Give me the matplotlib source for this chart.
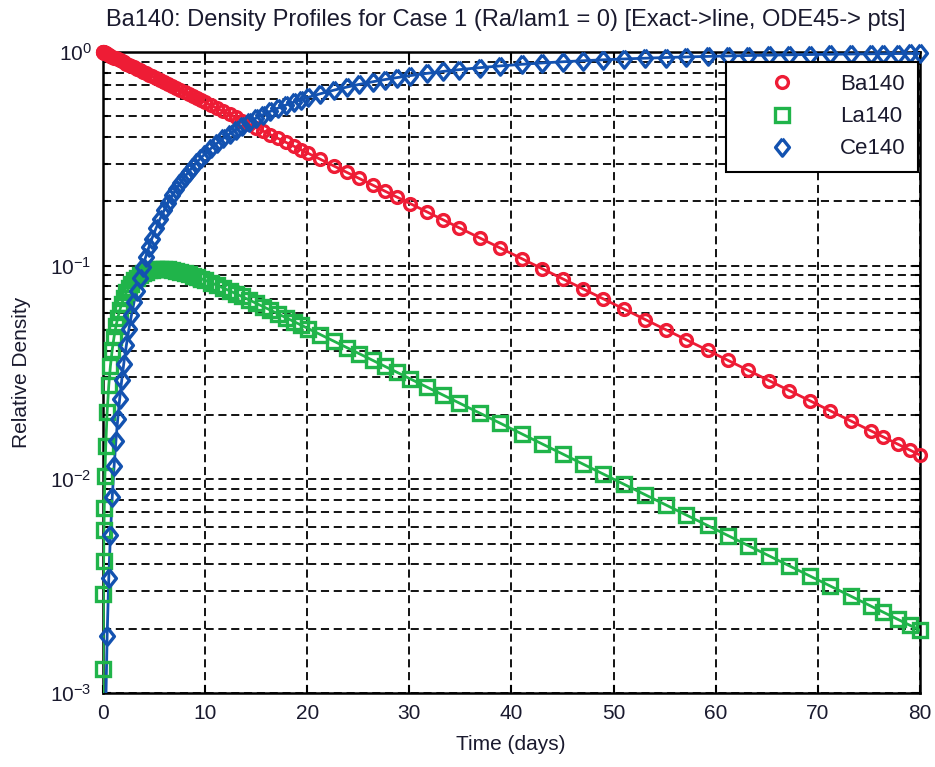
import matplotlib
matplotlib.use("Agg")
import matplotlib.pyplot as plt
import numpy as np
from matplotlib.ticker import FixedLocator, LogFormatterSciNotation, NullFormatter

plt.rcParams["font.family"] = ["Liberation Sans", "DejaVu Sans"]

# ODE45 output times (days) and relative densities
t_days = [0, 0.024, 0.054, 0.078, 0.11, 0.14, 0.2, 0.28, 0.42, 0.58, 0.74, 0.92, 1.1, 1.28, 1.46,
          1.65, 1.85, 2.05, 2.3, 2.55, 2.8, 3.05, 3.3, 3.6, 3.9, 4.2, 4.5, 4.8,
          5.2, 5.6, 6.0, 6.4, 6.8, 7.2, 7.6, 8.0, 8.4, 8.8, 9.2, 9.6, 10.0,
          10.6, 11.2, 11.8, 12.4, 13.0, 13.6, 14.3, 15.0, 15.7, 16.4, 17.1, 17.9, 18.7, 19.4,
          20.1, 21.3, 22.6, 23.9, 25.1, 26.4, 27.6, 28.8, 30.1,
          31.7, 33.3, 34.9, 36.9, 38.9, 41.0, 43.0, 45.0, 47.0, 49.0, 51.0, 53.1, 55.1, 57.1,
          59.2, 61.2, 63.2, 65.2, 67.2, 69.2, 71.2, 73.2, 75.2, 76.4, 77.8, 79.0, 80.0]

ba140 = [1.0, 0.9987, 0.9971, 0.9958, 0.9940, 0.9924, 0.9892, 0.9849, 0.9775, 0.9690, 0.9606,
         0.9513, 0.9420, 0.9329, 0.9238,
         0.9143, 0.9044, 0.8947, 0.8826, 0.8707, 0.8590, 0.8474, 0.8359, 0.8224, 0.8092, 0.7961,
         0.7832, 0.7706,
         0.7540, 0.7378, 0.7220, 0.7064, 0.6913, 0.6764, 0.6619, 0.6477, 0.6337, 0.6201, 0.6068,
         0.5938, 0.5810,
         0.5624, 0.5444, 0.5269, 0.5100, 0.4937, 0.4778, 0.4600, 0.4429, 0.4263, 0.4104, 0.3951,
         0.3783, 0.3623, 0.3487,
         0.3357, 0.3146, 0.2931, 0.2731, 0.2559, 0.2385, 0.2234, 0.2093, 0.1951,
         0.1788, 0.1640, 0.1503, 0.1348, 0.1210, 0.1079, 0.09682, 0.08686, 0.07792, 0.06990,
         0.06271, 0.05595, 0.05019, 0.04503, 0.04017, 0.03604, 0.03233, 0.02900, 0.02602,
         0.02334, 0.02094, 0.01878, 0.01685, 0.01579, 0.01463, 0.01371, 0.01299]

la140 = [0.0, 0.001296, 0.002895, 0.004158, 0.005822, 0.007358, 0.01037, 0.01425, 0.02069,
         0.02755, 0.03390, 0.04048, 0.04649, 0.05199, 0.05701,
         0.06182, 0.06640, 0.07051, 0.07505, 0.07899, 0.08239, 0.08531, 0.08780, 0.09026,
         0.09224, 0.09378, 0.09495, 0.09578,
         0.09645, 0.09669, 0.09657, 0.09615, 0.09550, 0.09464, 0.09362, 0.09246, 0.09120,
         0.08986, 0.08845, 0.08699, 0.08550,
         0.08321, 0.08090, 0.07859, 0.07628, 0.07401, 0.07177, 0.06921, 0.06671, 0.06429,
         0.06194, 0.05967, 0.05717, 0.05476, 0.05273,
         0.05077, 0.04758, 0.04435, 0.04133, 0.03873, 0.03609, 0.03381, 0.03168, 0.02952,
         0.02706, 0.02481, 0.02275, 0.02041, 0.01831, 0.01633, 0.01465, 0.01315, 0.01179,
         0.01058, 0.009490, 0.008467, 0.007596, 0.006814, 0.006080, 0.005454, 0.004893,
         0.004389, 0.003938, 0.003532, 0.003169, 0.002843, 0.002550, 0.002389, 0.002214,
         0.002075, 0.001965]

ce140 = [0.0, 6.46e-6, 3.27e-5, 6.74e-5, 1.334e-4, 2.150e-4, 4.350e-4, 8.421e-4, 0.001855,
         0.003452, 0.005486, 0.008254, 0.01149, 0.01515, 0.01921,
         0.02388, 0.02918, 0.03483, 0.04236, 0.05032, 0.05865, 0.06732, 0.07626, 0.08730,
         0.09861, 0.1101, 0.1218, 0.1337,
         0.1495, 0.1655, 0.1815, 0.1974, 0.2132, 0.2290, 0.2445, 0.2599, 0.2751, 0.2900,
         0.3048, 0.3192, 0.3335,
         0.3544, 0.3747, 0.3945, 0.4137, 0.4323, 0.4504, 0.4708, 0.4904, 0.5094, 0.5276,
         0.5452, 0.5645, 0.5830, 0.5985,
         0.6135, 0.6379, 0.6625, 0.6855, 0.7054, 0.7254, 0.7428, 0.7590, 0.7754,
         0.7941, 0.8112, 0.8269, 0.8448, 0.8607, 0.8757, 0.8885, 0.9000, 0.9103, 0.9195,
         0.9278, 0.9356, 0.9422, 0.9482, 0.9537, 0.9585, 0.9628, 0.9666, 0.9700, 0.9731,
         0.9759, 0.9784, 0.9806, 0.9818, 0.9832, 0.9842, 0.9851]

RED, GREEN, BLUE = "#ee1c35", "#20b44a", "#1352b0"
INK = "#1a1a2e"
DIAMOND = [(0, 1), (0.8, 0), (0, -1), (-0.8, 0), (0, 1)]

fig = plt.figure(figsize=(9.35, 7.67), dpi=100)
ax = fig.add_axes([0.110, 0.0965, 0.874, 0.8357])
ax.set_yscale("log")

t = np.array(t_days)
series = [
    (ba140, RED, "o", 8.5, "Ba140"),
    (la140, GREEN, "s", 9.5, "La140"),
    (ce140, BLUE, DIAMOND, 12.5, "Ce140"),
]
for vals, col, mk, ms, name in series:
    v = np.array(vals)
    # exact solution line
    ax.plot(t, v, "-", color=col, lw=2.0, zorder=3)
    # solver points (markers only), hidden below the axis range
    pts = np.ma.masked_less(v, 1e-3)
    ax.plot(t, pts, ls="none", marker=mk, ms=ms, mfc="none", mec=col, mew=2.4,
            clip_on=False, label=name, zorder=4)

ax.set_xlim(0, 80)
ax.set_ylim(1e-3, 1)
ax.xaxis.set_major_locator(FixedLocator(np.arange(0, 81, 10)))
ax.yaxis.set_major_locator(FixedLocator([1e-3, 1e-2, 1e-1, 1]))
ax.yaxis.set_major_formatter(LogFormatterSciNotation())
ax.yaxis.set_minor_formatter(NullFormatter())

dash = (0, (4.5, 2.6))
ax.grid(True, which="major", axis="x", color="black", ls=dash, lw=1.3)
ax.grid(True, which="both", axis="y", color="black", ls=dash, lw=1.3)
ax.set_axisbelow(True)

ax.tick_params(which="both", direction="in", top=True, right=True, colors="black",
               labelcolor=INK, labelsize=15, width=1.5)
ax.tick_params(which="major", length=6, pad=8)
ax.tick_params(which="minor", length=3.5)
for s in ax.spines.values():
    s.set_linewidth(1.8)
    s.set_color("black")

leg = ax.legend(loc="upper right", bbox_to_anchor=(0.9976, 0.9844), borderaxespad=0,
                fontsize=16, frameon=True, fancybox=False, edgecolor="black",
                borderpad=0.55, handlelength=4.0, handletextpad=0.6, labelspacing=0.5)
leg.get_frame().set_linewidth(1.5)
leg.get_frame().set_alpha(1)
for txt in leg.get_texts():
    txt.set_color(INK)

fig.text(506 / 935, 1 - 20 / 767,
         "Ba140: Density Profiles for Case 1 (Ra/lam1 = 0) [Exact->line, ODE45-> pts]",
         ha="center", va="center", fontsize=17, color=INK)
fig.text(511 / 935, 1 - 745 / 767, "Time (days)", ha="center", va="center",
         fontsize=15, color=INK)
fig.text(22 / 935, 1 - 372 / 767, "Relative Density", ha="center", va="center",
         rotation=90, fontsize=15, color=INK)

fig.savefig("out.png", dpi=100)
